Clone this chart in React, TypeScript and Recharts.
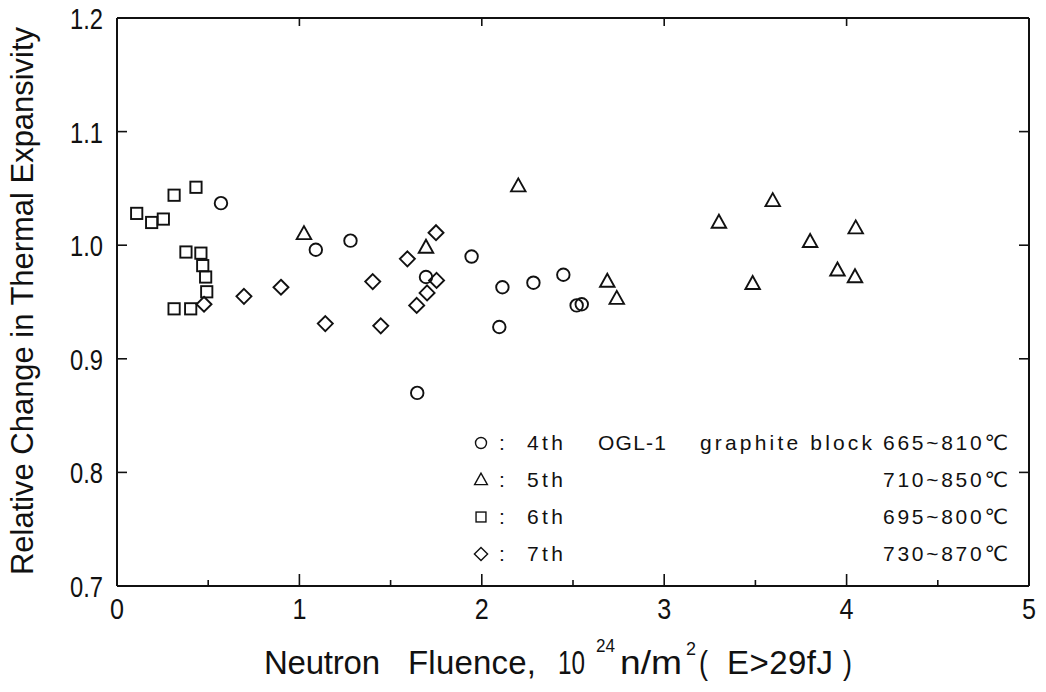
import React from 'react';
import { ScatterChart, Scatter, XAxis, YAxis, Legend, Label } from 'recharts';

// Irradiation runs: neutron fluence (10^24 n/m^2) and relative change in thermal expansivity
const fluence4th = [0.57, 1.09, 1.28, 1.646, 1.694, 1.944, 2.096, 2.113, 2.283, 2.447, 2.52, 2.548];
const ratio4th = [1.037, 0.996, 1.004, 0.87, 0.972, 0.99, 0.928, 0.963, 0.967, 0.974, 0.947, 0.948];

const fluence5th = [1.025, 1.694, 2.2, 2.688, 2.74, 3.3, 3.485, 3.595, 3.8, 3.95, 4.046, 4.05];
const ratio5th = [1.01, 0.998, 1.052, 0.968, 0.953, 1.02, 0.966, 1.039, 1.003, 0.978, 0.972, 1.015];

const fluence6th = [0.108, 0.19, 0.254, 0.313, 0.433, 0.378, 0.46, 0.47, 0.486, 0.492, 0.313, 0.404];
const ratio6th = [1.028, 1.02, 1.023, 1.044, 1.051, 0.994, 0.993, 0.982, 0.972, 0.959, 0.944, 0.944];

const fluence7th = [0.477, 0.696, 0.899, 1.142, 1.402, 1.446, 1.592, 1.643, 1.7, 1.749, 1.752];
const ratio7th = [0.948, 0.955, 0.963, 0.931, 0.968, 0.929, 0.988, 0.947, 0.958, 1.011, 0.969];

const runNames = ['4th', '5th', '6th', '7th'];
const tempRanges = ['665~810℃', '710~850℃', '695~800℃', '730~870℃'];
const facilityName = 'OGL-1';
const specimenName = 'graphite block';

const xMajorTicks = [0, 1, 2, 3, 4, 5];
const xMinorTicks = [0.5, 1.5, 2.5, 3.5, 4.5];
const xTopTicks = [1, 2, 3, 4];
const yTicks = [0.7, 0.8, 0.9, 1.0, 1.1, 1.2];
const yRightTicks = [0.8, 0.9, 1.0, 1.1];

const toPoints = (xs: number[], ys: number[]) => xs.map((x, i) => ({ x, y: ys[i] }));
const data4th = toPoints(fluence4th, ratio4th);
const data5th = toPoints(fluence5th, ratio5th);
const data6th = toPoints(fluence6th, ratio6th);
const data7th = toPoints(fluence7th, ratio7th);
const xAllTicks = [...xMajorTicks, ...xMinorTicks].sort((a, b) => a - b);

const INK = '#111';
const FONT = '"Liberation Sans", Arial, "DejaVu Sans", sans-serif';

// Condensed text: glyphs fitted to a fixed run width
const NText = ({
  x,
  y,
  w,
  size,
  anchor = 'start',
  adjust = 'spacingAndGlyphs',
  children,
}: {
  x: number;
  y: number;
  w: number;
  size: number;
  anchor?: 'start' | 'middle' | 'end';
  adjust?: 'spacing' | 'spacingAndGlyphs';
  children: React.ReactNode;
}) => (
  <text
    x={x}
    y={y}
    textAnchor={anchor}
    fontFamily={FONT}
    fontSize={size}
    fill={INK}
    textLength={w}
    lengthAdjust={adjust}
  >
    {children}
  </text>
);

type Kind = 'circle' | 'triangle' | 'square' | 'diamond';

const Marker = ({ kind, cx, cy, s, sw }: { kind: Kind; cx: number; cy: number; s: number; sw: number }) => {
  const common = { fill: 'none', stroke: INK, strokeWidth: sw };
  if (kind === 'circle') return <circle cx={cx} cy={cy} r={s * 0.5} {...common} />;
  if (kind === 'square')
    return <rect x={cx - s * 0.45} y={cy - s * 0.45} width={s * 0.9} height={s * 0.9} {...common} />;
  if (kind === 'triangle')
    return (
      <polygon
        points={`${cx},${cy - s * 0.62} ${cx - s * 0.58},${cy + s * 0.42} ${cx + s * 0.58},${cy + s * 0.42}`}
        {...common}
      />
    );
  return (
    <polygon
      points={`${cx},${cy - s * 0.6} ${cx + s * 0.6},${cy} ${cx},${cy + s * 0.6} ${cx - s * 0.6},${cy}`}
      {...common}
    />
  );
};

const shapeFor = (kind: Kind) => (props: any) => (
  <Marker kind={kind} cx={props.cx} cy={props.cy} s={12.5} sw={1.9} />
);

const BottomTick = (props: any) => {
  const { x, y, payload } = props;
  const v = payload.value as number;
  const major = Number.isInteger(v);
  return (
    <g>
      <line x1={x} x2={x} y1={y} y2={y - (major ? 12 : 6)} stroke={INK} strokeWidth={1.6} />
      {major && (
        <NText x={x} y={y + 33} w={14} size={29} anchor="middle">
          {String(v)}
        </NText>
      )}
    </g>
  );
};

const LeftTick = (props: any) => {
  const { x, y, payload } = props;
  return (
    <g>
      <line x1={x} x2={x + 10} y1={y} y2={y} stroke={INK} strokeWidth={1.6} />
      <NText x={x - 14} y={y + 11} w={33} size={29} anchor="end">
        {(payload.value as number).toFixed(1)}
      </NText>
    </g>
  );
};

const TopTick = (props: any) => (
  <line x1={props.x} x2={props.x} y1={props.y} y2={props.y + 8} stroke={INK} strokeWidth={1.6} />
);

const RightTick = (props: any) => (
  <line x1={props.x} x2={props.x - 10} y1={props.y} y2={props.y} stroke={INK} strokeWidth={1.6} />
);

const YTitle = () => (
  <g transform="rotate(-90, 33, 301)">
    <NText x={33} y={301} w={548} size={32} anchor="middle">
      Relative Change in Thermal Expansivity
    </NText>
  </g>
);

const XTitle = () => (
  <g>
    <NText x={264} y={674} w={116} size={33} adjust="spacing">Neutron</NText>
    <NText x={408} y={674} w={128} size={33} adjust="spacing">Fluence,</NText>
    <NText x={558} y={674} w={27} size={33}>10</NText>
    <NText x={596} y={652} w={19} size={19}>24</NText>
    <NText x={620} y={674} w={62} size={33}>n/m</NText>
    <NText x={686} y={655} w={10} size={19}>2</NText>
    <NText x={699} y={674} w={9} size={33}>(</NText>
    <NText x={727} y={674} w={106} size={33} adjust="spacing">E&gt;29fJ</NText>
    <NText x={843} y={674} w={9} size={33}>)</NText>
  </g>
);

const legendKinds: Kind[] = ['circle', 'triangle', 'square', 'diamond'];
const LEG_X = 460;
const LEG_Y = 420;

const LegendBox = () => (
  <svg width={580} height={160} style={{ display: 'block', overflow: 'visible' }}>
    <g transform={`translate(${-LEG_X}, ${-LEG_Y})`}>
      {runNames.map((name, i) => {
        const base = 450 + i * 37;
        return (
          <g key={name}>
            <Marker kind={legendKinds[i]} cx={481} cy={base - 7} s={11} sw={1.4} />
            <text x={499} y={base} fontFamily={FONT} fontSize={21} fill={INK}>:</text>
            <NText x={527} y={base} w={36} size={21} adjust="spacing">{name}</NText>
            {i === 0 && (
              <NText x={598} y={base} w={68} size={21} adjust="spacing">{facilityName}</NText>
            )}
            {i === 0 && (
              <NText x={700} y={base} w={172} size={21} adjust="spacing">{specimenName}</NText>
            )}
            <NText x={1008} y={base} w={125} size={21} anchor="end" adjust="spacing">
              {tempRanges[i]}
            </NText>
          </g>
        );
      })}
    </g>
  </svg>
);

const axisLine = { stroke: INK, strokeWidth: 2 };

export default function App() {
  return (
    <div style={{ position: 'absolute', left: 0, top: 0, width: 1046, height: 692, background: '#fff' }}>
      <ScatterChart width={1046} height={692} margin={{ top: 17, right: 16, bottom: 0, left: 0 }}>
        <XAxis
          dataKey="x"
          type="number"
          domain={[0, 5]}
          ticks={xAllTicks}
          interval={0}
          allowDataOverflow
          height={106}
          axisLine={axisLine}
          tickLine={false}
          tickSize={0}
          tickMargin={0}
          tick={BottomTick}
        >
          <Label content={XTitle} />
        </XAxis>
        <XAxis
          xAxisId="top"
          orientation="top"
          dataKey="x"
          type="number"
          domain={[0, 5]}
          ticks={xTopTicks}
          interval={0}
          allowDataOverflow
          height={1}
          axisLine={axisLine}
          tickLine={false}
          tickSize={0}
          tickMargin={0}
          tick={TopTick}
        />
        <YAxis
          dataKey="y"
          type="number"
          domain={[0.7, 1.2]}
          ticks={yTicks}
          interval={0}
          allowDataOverflow
          width={117}
          axisLine={axisLine}
          tickLine={false}
          tickSize={0}
          tickMargin={0}
          tick={LeftTick}
        >
          <Label content={YTitle} />
        </YAxis>
        <YAxis
          yAxisId="right"
          orientation="right"
          dataKey="y"
          type="number"
          domain={[0.7, 1.2]}
          ticks={yRightTicks}
          interval={0}
          allowDataOverflow
          width={1}
          axisLine={axisLine}
          tickLine={false}
          tickSize={0}
          tickMargin={0}
          tick={RightTick}
        />
        <Scatter name="4th" data={data4th} shape={shapeFor('circle')} isAnimationActive={false} />
        <Scatter name="5th" data={data5th} shape={shapeFor('triangle')} isAnimationActive={false} />
        <Scatter name="6th" data={data6th} shape={shapeFor('square')} isAnimationActive={false} />
        <Scatter name="7th" data={data7th} shape={shapeFor('diamond')} isAnimationActive={false} />
        <Legend
          layout="vertical"
          align="center"
          verticalAlign="middle"
          wrapperStyle={{ left: LEG_X, top: LEG_Y, width: 580, height: 160 }}
          content={() => <LegendBox />}
        />
      </ScatterChart>
    </div>
  );
}
